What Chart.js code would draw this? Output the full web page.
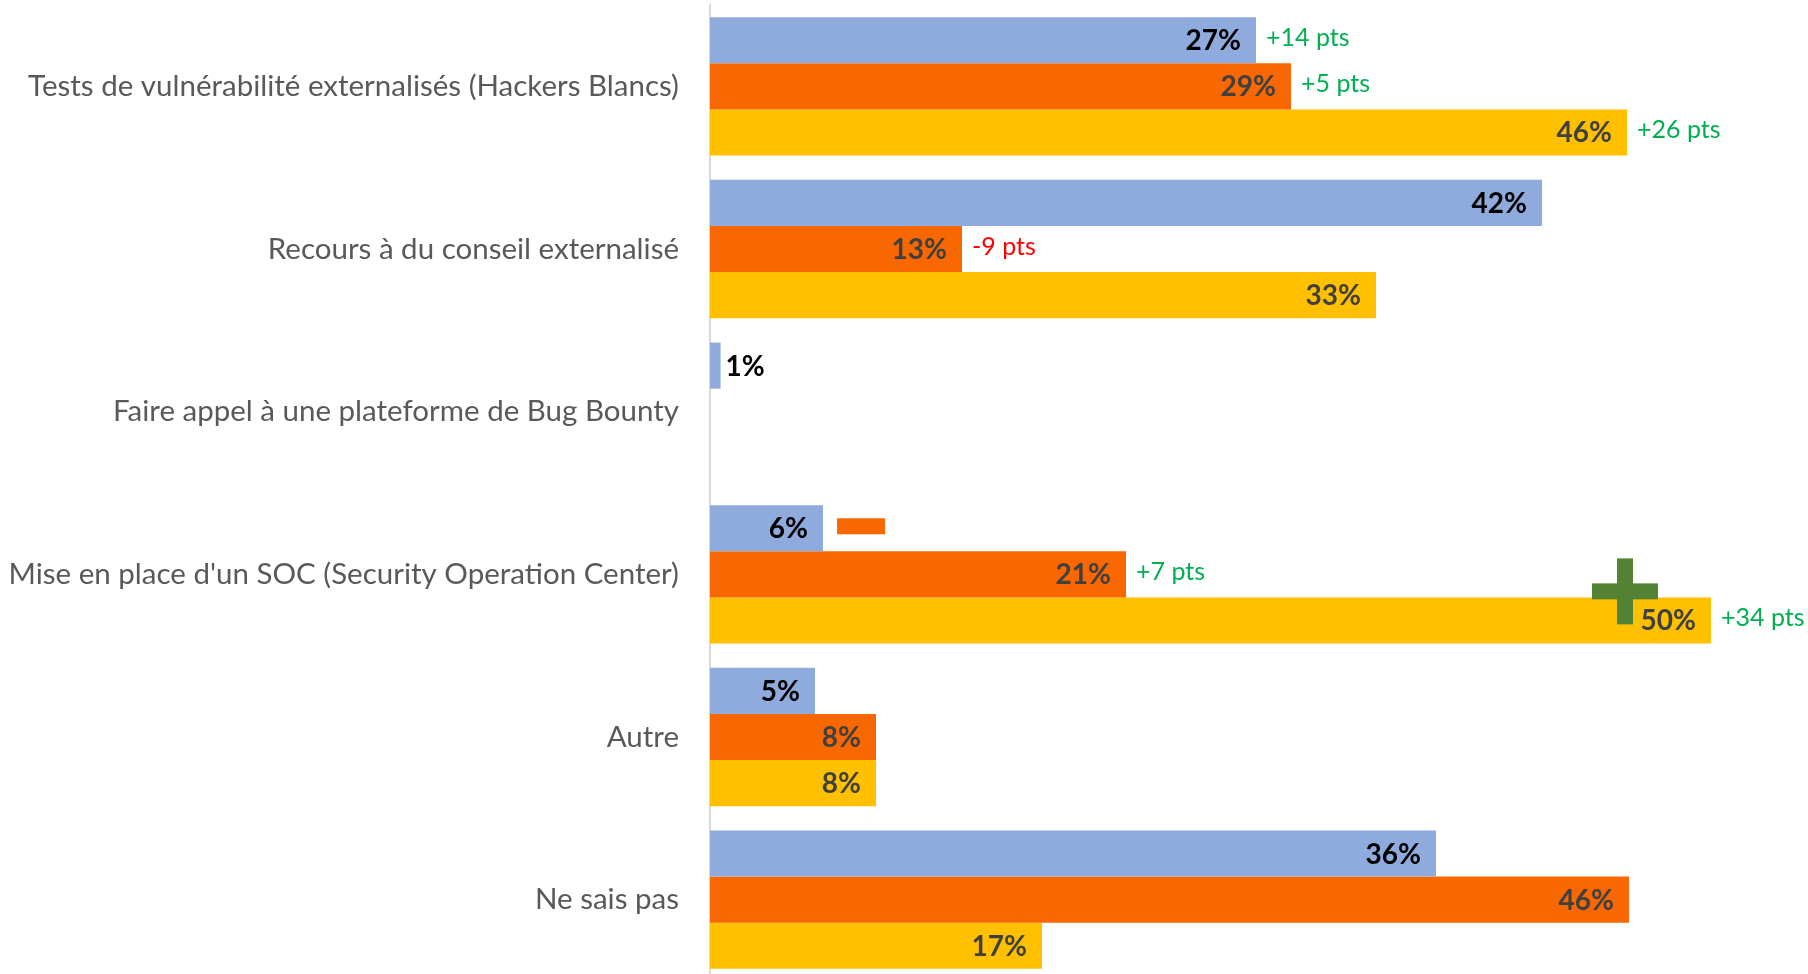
<!DOCTYPE html>
<html>
<head>
<meta charset="utf-8">
<script src="https://cdn.jsdelivr.net/npm/chart.js@4.4.1/dist/chart.umd.min.js"></script>
<style>
  html, body { margin: 0; padding: 0; background: #fff; overflow: hidden; }
  #wrap { position: relative; width: 1808px; height: 986px; }
</style>
</head>
<body>
<div id="wrap"><canvas id="barCanvas"></canvas></div>
<script>
// categories (y axis)
var categories = [
  'Tests de vulnérabilité externalisés (Hackers Blancs)',
  'Recours à du conseil externalisé',
  'Faire appel à une plateforme de Bug Bounty',
  "Mise en place d'un SOC (Security Operation Center)",
  'Autre',
  'Ne sais pas',
]

// values in %
var serieBleue = [27.3, 41.6, 0.53, 5.65, 5.25, 36.3]
var serieOrange = [29.05, 12.6, null, 20.8, 8.3, 45.95]
var serieJaune = [45.85, 33.3, null, 50.05, 8.3, 16.6]

// evolution labels next to the bars
var evolBleue = ['+14 pts', null, null, null, null, null]
var evolOrange = ['+5 pts', '-9 pts', null, '+7 pts', null, null]
var evolJaune = ['+26 pts', null, null, '+34 pts', null, null]

var colors = {
  blue: '#8FAADC',
  orange: '#F96800',
  yellow: '#FFC000',
  green: '#00B050',
  red: '#FF0000',
  plus: '#548235',
}

// draws the % labels, the "pts" labels and the -/+ signs
var labelPlugin = {
  id: 'barLabels',
  afterDatasetsDraw: function (chart) {
    var ctx = chart.ctx
    var xScale = chart.scales.x

    // minus / plus shapes
    ctx.save()
    var minusBar = chart.getDatasetMeta(0).data[3]
    var x1 = xScale.getPixelForValue(6.35)
    var x2 = xScale.getPixelForValue(8.75)
    ctx.fillStyle = colors.orange
    ctx.fillRect(x1, minusBar.y - 10, x2 - x1, 16)

    var plusBar = chart.getDatasetMeta(2).data[3]
    var cx = xScale.getPixelForValue(45.75)
    var cy = plusBar.y - plusBar.height / 2 - 6
    ctx.fillStyle = colors.plus
    ctx.fillRect(cx - 33, cy - 8, 66, 16)
    ctx.fillRect(cx - 8, cy - 33, 16, 66)
    ctx.restore()

    ctx.save()
    ctx.textBaseline = 'middle'
    chart.data.datasets.forEach(function (ds, i) {
      var meta = chart.getDatasetMeta(i)
      meta.data.forEach(function (bar, j) {
        var v = ds.data[j]
        if (v === null) return
        var txt = Math.round(v) + '%'
        ctx.font = 'bold 28px Lato'
        var w = ctx.measureText(txt).width
        ctx.fillStyle = ds.labelColor
        if (bar.x - bar.base > w + 20) {
          ctx.textAlign = 'right'
          ctx.fillText(txt, bar.x - 15, bar.y + 1)
        } else {
          ctx.textAlign = 'left'
          ctx.fillText(txt, bar.x + 5, bar.y + 1)
        }
        var evol = ds.evol[j]
        if (evol) {
          ctx.font = '25px Lato'
          ctx.fillStyle = evol.charAt(0) === '-' ? colors.red : colors.green
          ctx.textAlign = 'left'
          ctx.fillText(evol, bar.x + 10, bar.y - 2)
        }
      })
    })
    ctx.restore()
  },
}

window.onload = function () {
  var barCtx = document.getElementById('barCanvas').getContext('2d')
  window.myBar = new Chart(barCtx, {
    type: 'bar',
    data: {
      labels: categories,
      datasets: [
        { label: 'Série 1', data: serieBleue, backgroundColor: colors.blue, labelColor: '#000000', evol: evolBleue },
        { label: 'Série 2', data: serieOrange, backgroundColor: colors.orange, labelColor: '#404040', evol: evolOrange },
        { label: 'Série 3', data: serieJaune, backgroundColor: colors.yellow, labelColor: '#404040', evol: evolJaune },
      ],
    },
    options: {
      indexAxis: 'y',
      responsive: true,
      maintainAspectRatio: false,
      animation: false,
      categoryPercentage: 0.85,
      barPercentage: 1.0,
      layout: { padding: { top: 5, bottom: 5, left: 0, right: 0 } },
      plugins: {
        legend: { display: false },
        tooltip: { enabled: false },
      },
      scales: {
        x: {
          display: false,
          min: 0,
          max: 54.9,
        },
        y: {
          grid: { display: false, drawTicks: false },
          border: { display: true, color: '#D9D9D9', width: 2 },
          ticks: {
            padding: 31,
            color: '#595959',
            font: { family: 'Lato', size: 29.5 },
          },
          afterFit: function (scale) {
            scale.width = 710
            scale.paddingTop = 0
            scale.paddingBottom = 0
          },
        },
      },
    },
    plugins: [labelPlugin],
  })
}
</script>
</body>
</html>
